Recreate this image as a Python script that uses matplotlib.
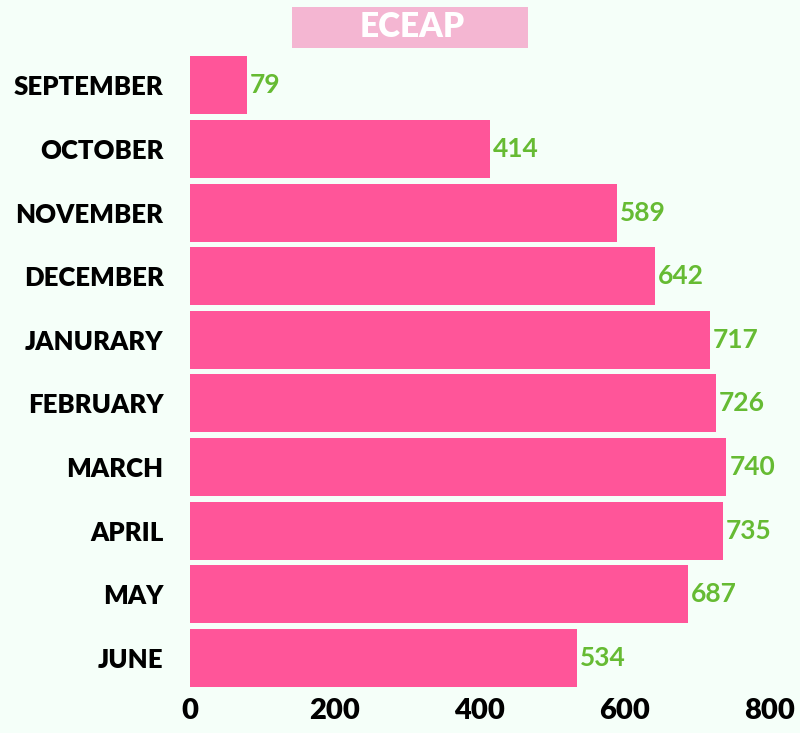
import matplotlib.pyplot as plt
from matplotlib.patches import Rectangle

months = ["SEPTEMBER", "OCTOBER", "NOVEMBER", "DECEMBER", "JANURARY",
          "FEBRUARY", "MARCH", "APRIL", "MAY", "JUNE"]
counts = [79, 414, 589, 642, 717, 726, 740, 735, 687, 534]
xticks = [0, 200, 400, 600, 800]

bg = "#f5fff9"
pink = "#ff5599"
green = "#66bb33"

fig = plt.figure(figsize=(8, 7.33), dpi=100, facecolor=bg)
ax = fig.add_axes([0.2375, 0.059, 0.725, 0.868])
ax.set_facecolor(bg)

ypos = list(range(len(months)))
ax.barh(ypos, counts, height=0.91, color=pink)
for y, v in zip(ypos, counts):
    ax.text(v + 4, y, str(v), va="center", ha="left", color=green,
            fontsize=19, fontweight="bold", family="Lato")

ax.set_ylim(len(months) - 0.5, -0.5)
ax.set_xlim(0, 800)
ax.set_yticks(ypos)
ax.set_yticklabels(months, fontsize=18.5, fontweight="heavy", family="Lato")
ax.set_xticks(xticks)
ax.set_xticklabels([str(t) for t in xticks], fontsize=21, fontweight="heavy", family="Lato")
ax.tick_params(length=0, pad=19, axis="y")
ax.tick_params(length=0, pad=6, axis="x")
for s in ax.spines.values():
    s.set_visible(False)

# brush-like title banner
fig.patches.append(Rectangle((0.365, 0.935), 0.295, 0.055, transform=fig.transFigure,
                             facecolor="#f4b6d2", edgecolor="none"))
fig.text(0.515, 0.963, "ECEAP", ha="center", va="center", color="white",
         fontsize=24, fontweight="heavy", family="Lato")

fig.savefig("out.png", dpi=100, facecolor=bg)
